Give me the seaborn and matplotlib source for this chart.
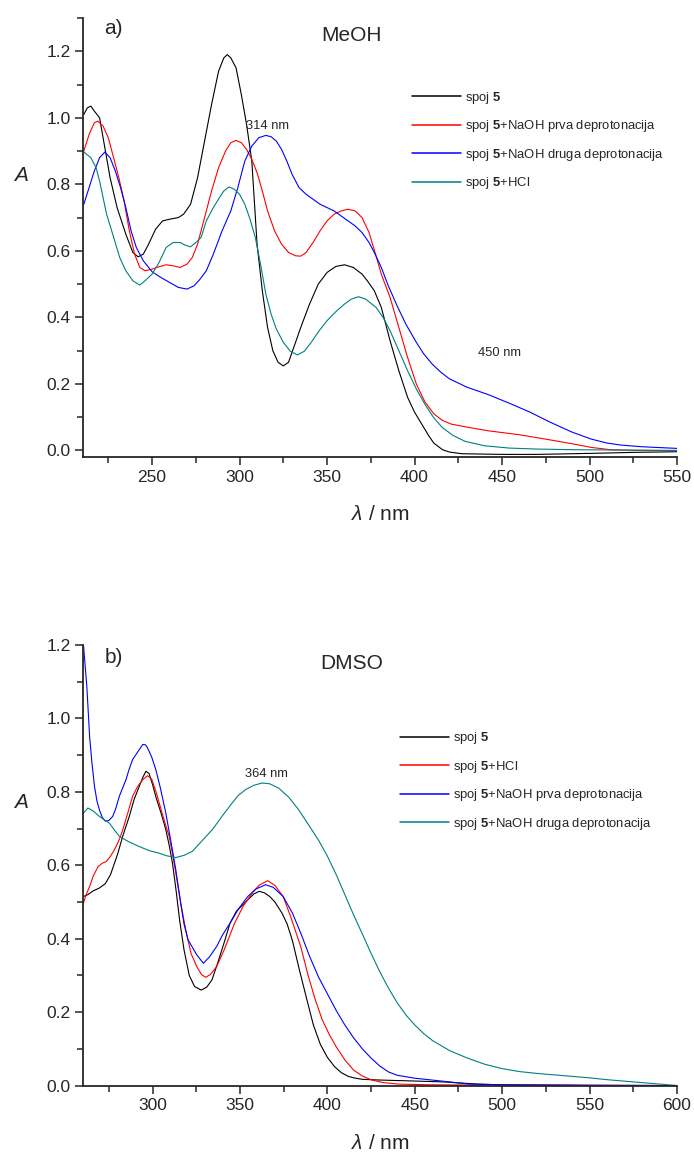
import numpy as np
import pandas as pd
import matplotlib
matplotlib.use("Agg")
import matplotlib.pyplot as plt
from matplotlib.ticker import MultipleLocator
import seaborn as sns

sns.set_style("ticks")
plt.rcParams["font.family"] = ["Liberation Sans", "DejaVu Sans"]
plt.rcParams["mathtext.fontset"] = "custom"
plt.rcParams["mathtext.rm"] = "Liberation Sans"
plt.rcParams["mathtext.bf"] = "Liberation Sans:bold"
plt.rcParams["mathtext.it"] = "Liberation Sans:italic"

# ---- MeOH (panel a) ----
meoh_x_5 = [211, 213, 215, 217, 220, 223, 226, 230, 235, 239, 242, 245, 248, 252, 256, 260, 265, 268,
            272, 276, 280, 284, 288, 291, 293, 295, 298, 301, 304, 307, 310, 313, 316, 319, 322, 325,
            328, 331, 335, 340, 345, 350, 355, 360, 365, 370, 373, 377, 381, 386, 391, 396, 400, 404,
            408, 411, 416, 420, 427, 450, 470, 500, 525, 550]
meoh_a_5 = [1.01, 1.03, 1.035, 1.02, 1.00, 0.91, 0.82, 0.73, 0.65, 0.595, 0.582, 0.59, 0.62, 0.665, 0.69,
            0.695, 0.70, 0.71, 0.74, 0.82, 0.93, 1.04, 1.14, 1.18, 1.19, 1.18, 1.15, 1.07, 0.98, 0.87,
            0.62, 0.48, 0.37, 0.30, 0.265, 0.254, 0.265, 0.31, 0.37, 0.44, 0.50, 0.535, 0.553, 0.558,
            0.55, 0.53, 0.51, 0.48, 0.43, 0.33, 0.24, 0.16, 0.115, 0.08, 0.045, 0.022, 0.002, -0.005,
            -0.01, -0.012, -0.012, -0.009, -0.006, -0.004]

meoh_x_naoh1 = [211, 214, 217, 219, 222, 225, 228, 231, 234, 237, 240, 243, 246, 250, 254, 258, 262, 266,
                270, 273, 276, 280, 284, 288, 292, 295, 298, 301, 304, 307, 310, 313, 316, 320, 324, 328,
                332, 335, 338, 342, 346, 350, 354, 358, 362, 366, 370, 374, 378, 381, 386, 391, 396, 401,
                406, 411, 416, 421, 430, 442, 460, 477, 490, 501, 512, 525, 550]
meoh_a_naoh1 = [0.90, 0.95, 0.985, 0.99, 0.975, 0.94, 0.88, 0.82, 0.75, 0.66, 0.59, 0.55, 0.54, 0.545,
                0.552, 0.558, 0.555, 0.55, 0.56, 0.58, 0.62, 0.70, 0.78, 0.85, 0.90, 0.925, 0.932, 0.925,
                0.905, 0.875, 0.835, 0.78, 0.72, 0.66, 0.62, 0.595, 0.585, 0.584, 0.595, 0.625, 0.66,
                0.69, 0.71, 0.72, 0.725, 0.72, 0.70, 0.655, 0.585, 0.53, 0.46, 0.37, 0.28, 0.20, 0.145,
                0.11, 0.09, 0.079, 0.07, 0.059, 0.047, 0.032, 0.02, 0.009, 0.002, 0.0, -0.001]

meoh_x_naoh2 = [211, 214, 217, 220, 223, 226, 229, 232, 235, 238, 241, 245, 250, 255, 260, 265, 270, 274,
                277, 281, 285, 290, 295, 299, 303, 307, 311, 315, 318, 321, 324, 327, 330, 334, 338, 342,
                346, 350, 354, 358, 362, 366, 370, 374, 377, 381, 385, 390, 395, 401, 405, 410, 415, 420,
                430, 442, 455, 466, 477, 490, 501, 510, 518, 530, 550]
meoh_a_naoh2 = [0.74, 0.79, 0.84, 0.88, 0.897, 0.88, 0.84, 0.79, 0.73, 0.66, 0.61, 0.57, 0.537, 0.52,
                0.505, 0.49, 0.485, 0.495, 0.512, 0.54, 0.59, 0.66, 0.72, 0.79, 0.87, 0.915, 0.94, 0.947,
                0.943, 0.93, 0.905, 0.87, 0.83, 0.79, 0.77, 0.755, 0.74, 0.73, 0.72, 0.705, 0.69, 0.675,
                0.655, 0.625, 0.595, 0.55, 0.495, 0.435, 0.38, 0.325, 0.292, 0.26, 0.235, 0.215, 0.19,
                0.168, 0.14, 0.115, 0.086, 0.055, 0.034, 0.022, 0.016, 0.011, 0.006]

meoh_x_hcl = [211, 215, 218, 220, 222, 224, 227.5, 231.5, 235, 239, 243, 246, 250, 254, 258, 262, 266,
              269, 272, 275, 278, 281, 285, 288.5, 291, 294, 297, 300, 303, 306, 309, 312, 315, 318, 321,
              325, 329, 333, 337, 341, 345.5, 350, 355.6, 360, 364, 368, 372, 378, 382, 386, 391, 396,
              401, 406, 411, 416, 422, 429, 440, 454, 470, 492, 520, 550]
meoh_a_hcl = [0.897, 0.88, 0.85, 0.81, 0.76, 0.71, 0.65, 0.58, 0.54, 0.51, 0.497, 0.51, 0.53, 0.565,
              0.61, 0.625, 0.625, 0.617, 0.612, 0.625, 0.64, 0.69, 0.73, 0.76, 0.78, 0.792, 0.785, 0.77,
              0.74, 0.695, 0.64, 0.56, 0.47, 0.41, 0.365, 0.325, 0.298, 0.287, 0.298, 0.325, 0.36, 0.39,
              0.42, 0.44, 0.455, 0.462, 0.455, 0.43, 0.40, 0.36, 0.30, 0.24, 0.185, 0.138, 0.098, 0.068,
              0.045, 0.027, 0.014, 0.007, 0.004, 0.002, 0.001, 0.0]

# ---- DMSO (panel b) ----
dmso_x_5 = [260.5, 263, 266, 269.6, 273, 276, 280, 283, 286.7, 289.5, 292.4, 294.5, 296.2, 298, 300, 302,
            305, 307.6, 309.5, 311.4, 313.5, 315.5, 318, 321, 324, 327.8, 331, 334, 337, 341, 344.3, 348,
            354.5, 358, 361, 364, 367, 370, 374, 377, 380, 384, 388.5, 392, 396, 400, 404, 408, 412, 416,
            420, 430, 445, 466, 486, 500, 550, 600]
dmso_a_5 = [0.515, 0.52, 0.53, 0.538, 0.55, 0.575, 0.63, 0.68, 0.733, 0.78, 0.815, 0.84, 0.856, 0.85,
            0.82, 0.785, 0.74, 0.697, 0.655, 0.606, 0.53, 0.45, 0.37, 0.30, 0.27, 0.26, 0.268, 0.288,
            0.33, 0.39, 0.442, 0.475, 0.506, 0.522, 0.529, 0.525, 0.515, 0.50, 0.47, 0.44, 0.395, 0.315,
            0.23, 0.165, 0.112, 0.077, 0.052, 0.035, 0.025, 0.02, 0.017, 0.015, 0.013, 0.01, 0.004,
            0.002, 0.0, 0.0]

dmso_x_hcl = [260.5, 262, 264, 266, 268.7, 271, 273.5, 276, 278.2, 281, 283, 286, 288.6, 291.5, 294.4,
              297.1, 299.5, 302, 303.8, 306.5, 309.5, 311.5, 313.3, 316, 319, 322, 325.3, 328, 330.4, 333,
              336.7, 341, 346.9, 352, 357, 361, 365.9, 370, 374.7, 379, 384.8, 389, 393, 397, 401, 405,
              410, 415, 420, 425.4, 432, 440.5, 460, 500, 600]
dmso_a_hcl = [0.497, 0.52, 0.542, 0.57, 0.595, 0.605, 0.61, 0.625, 0.642, 0.67, 0.697, 0.745, 0.788,
              0.815, 0.833, 0.844, 0.835, 0.80, 0.77, 0.725, 0.679, 0.63, 0.579, 0.50, 0.424, 0.36, 0.324,
              0.302, 0.295, 0.302, 0.324, 0.37, 0.442, 0.49, 0.524, 0.546, 0.558, 0.545, 0.515, 0.46,
              0.378, 0.30, 0.235, 0.18, 0.14, 0.106, 0.07, 0.042, 0.026, 0.015, 0.008, 0.004, 0.002,
              0.001, 0.0]

dmso_x_naoh1 = [260.5, 261.5, 262.4, 263.2, 264, 265.3, 266.8, 268.2, 269.6, 271.3, 273, 275, 277.2, 279,
                281, 284.8, 286.5, 288.6, 291, 294.4, 296, 297.1, 299.5, 301.9, 304.5, 307.6, 310.5,
                313.3, 316, 318, 320.3, 325.3, 329.1, 332.5, 336.7, 340, 344.3, 349, 354.5, 359, 364.6,
                369, 374.7, 380, 384.8, 390, 395, 400, 405, 410, 415, 420, 425, 430, 435, 440, 450,
                465.8, 481, 500, 550, 600]
dmso_a_naoh1 = [1.2, 1.14, 1.088, 1.02, 0.951, 0.88, 0.815, 0.775, 0.751, 0.73, 0.72, 0.722, 0.733,
                0.755, 0.788, 0.833, 0.86, 0.888, 0.905, 0.929, 0.928, 0.92, 0.895, 0.86, 0.81, 0.742,
                0.665, 0.588, 0.50, 0.44, 0.397, 0.356, 0.333, 0.35, 0.379, 0.41, 0.442, 0.48, 0.515,
                0.535, 0.547, 0.54, 0.515, 0.47, 0.415, 0.35, 0.295, 0.25, 0.205, 0.165, 0.13, 0.1,
                0.075, 0.053, 0.037, 0.028, 0.02, 0.012, 0.004, 0.002, 0.001, 0.0]

dmso_x_naoh2 = [260.5, 263, 266, 269.6, 273, 275.3, 278, 281, 286, 292.4, 298, 303.8, 308, 313.3, 318,
                322.8, 328, 334.2, 340, 345.6, 349, 353.2, 358, 362.7, 367, 372.2, 378, 383.6, 389, 395,
                400, 405, 410, 415, 420, 425, 430, 435, 440, 445, 450, 455, 460, 470, 480, 490, 500, 510,
                520, 530, 540, 550, 560, 570, 580, 590, 600]
dmso_a_naoh2 = [0.742, 0.756, 0.748, 0.733, 0.722, 0.715, 0.697, 0.679, 0.665, 0.651, 0.64, 0.633, 0.626,
                0.621, 0.627, 0.638, 0.665, 0.697, 0.735, 0.77, 0.79, 0.806, 0.818, 0.824, 0.822, 0.81,
                0.785, 0.751, 0.712, 0.668, 0.625, 0.575, 0.52, 0.465, 0.413, 0.36, 0.31, 0.265, 0.225,
                0.192, 0.165, 0.142, 0.123, 0.095, 0.075, 0.058, 0.046, 0.038, 0.033, 0.029, 0.025, 0.021,
                0.016, 0.012, 0.008, 0.004, 0.0]

meoh_labels = ["spoj $\\mathbf{5}$", "spoj $\\mathbf{5}$+NaOH prva deprotonacija",
               "spoj $\\mathbf{5}$+NaOH druga deprotonacija", "spoj $\\mathbf{5}$+HCl"]
dmso_labels = ["spoj $\\mathbf{5}$", "spoj $\\mathbf{5}$+HCl",
               "spoj $\\mathbf{5}$+NaOH prva deprotonacija", "spoj $\\mathbf{5}$+NaOH druga deprotonacija"]
meoh_colors = ["black", "red", "blue", "#008080"]
dmso_colors = ["black", "red", "blue", "#008080"]


def frame(xs, ys, labels):
    parts = []
    for x, y, lab in zip(xs, ys, labels):
        parts.append(pd.DataFrame({"wl": x, "A": y, "serija": lab}))
    return pd.concat(parts, ignore_index=True)


df_meoh = frame([meoh_x_5, meoh_x_naoh1, meoh_x_naoh2, meoh_x_hcl],
                [meoh_a_5, meoh_a_naoh1, meoh_a_naoh2, meoh_a_hcl], meoh_labels)
df_dmso = frame([dmso_x_5, dmso_x_hcl, dmso_x_naoh1, dmso_x_naoh2],
                [dmso_a_5, dmso_a_hcl, dmso_a_naoh1, dmso_a_naoh2], dmso_labels)

fig = plt.figure(figsize=(6.94, 11.53), dpi=100)
ax1 = fig.add_axes([0.1203, 0.6036, 0.8552, 0.3808])
ax2 = fig.add_axes([0.1203, 0.0585, 0.8552, 0.3821])


def draw(ax, df, labels, colors, xlim, ylim, leg_anchor, legy):
    sns.lineplot(data=df, x="wl", y="A", hue="serija", hue_order=labels,
                 palette=dict(zip(labels, colors)), estimator=None, sort=False,
                 linewidth=0.8, ax=ax, legend=False)
    ax.set_xlim(*xlim)
    ax.set_ylim(*ylim)
    ax.xaxis.set_major_locator(MultipleLocator(50))
    ax.xaxis.set_minor_locator(MultipleLocator(25))
    ax.yaxis.set_major_locator(MultipleLocator(0.2))
    ax.yaxis.set_minor_locator(MultipleLocator(0.1))
    ax.yaxis.set_major_formatter(plt.FuncFormatter(lambda v, p: f"{v:.1f}"))
    ax.tick_params(which="major", direction="out", length=6, width=1.1, labelsize=12.5, pad=3)
    ax.tick_params(which="minor", direction="out", length=4, width=1.1)
    for s in ["top", "right"]:
        ax.spines[s].set_visible(False)
    for s in ["left", "bottom"]:
        ax.spines[s].set_linewidth(1.3)
    ax.set_xlabel("$\\mathit{\\lambda}$ / nm", fontsize=15)
    ax.set_ylabel("A", fontsize=15, style="italic", rotation=0)
    ax.xaxis.set_label_coords(0.5, -0.11)
    ax.yaxis.set_label_coords(-0.105, 0.62)
    handles = [plt.Line2D([], [], color=c, lw=1.1) for c in colors]
    ax.legend(handles, labels, loc="upper left", bbox_to_anchor=(leg_anchor, legy),
              frameon=False, fontsize=9.4, handlelength=3.7, handletextpad=0.3,
              labelspacing=0.95, borderpad=0, borderaxespad=0)


draw(ax1, df_meoh, meoh_labels, meoh_colors, (210.8, 550), (-0.02, 1.3), 0.554, 0.836)
draw(ax2, df_dmso, dmso_labels, dmso_colors, (260.5, 600), (0.0, 1.2), 0.534, 0.806)

ax1.text(0.051, 0.975, "a)", transform=ax1.transAxes, fontsize=15, ha="center", va="center")
ax1.text(0.451, 0.961, "MeOH", transform=ax1.transAxes, fontsize=15, ha="center", va="center")
ax1.text(303.9, 0.974, "314 nm", fontsize=9.3, ha="left", va="center")
ax1.text(436, 0.294, "450 nm", fontsize=9.3, ha="left", va="center")

ax2.text(0.051, 0.972, "b)", transform=ax2.transAxes, fontsize=15, ha="center", va="center")
ax2.text(0.452, 0.959, "DMSO", transform=ax2.transAxes, fontsize=15, ha="center", va="center")
ax2.text(352.8, 0.849, "364 nm", fontsize=9.3, ha="left", va="center")

fig.savefig("out.png", dpi=100)
